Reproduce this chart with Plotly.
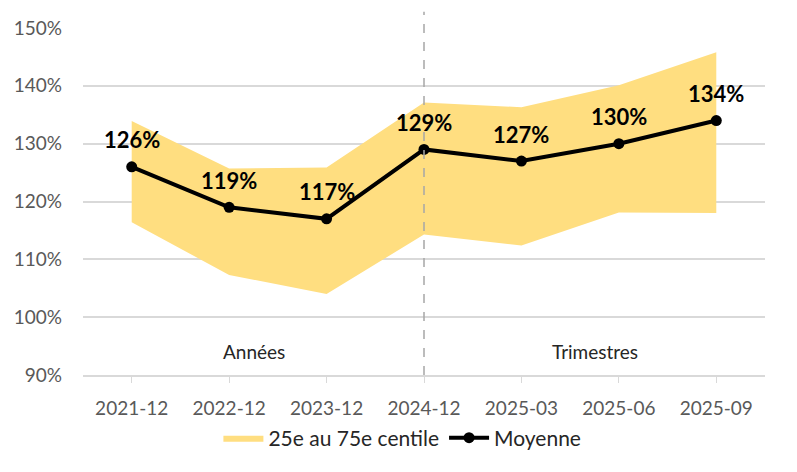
import plotly.graph_objects as go

# Data
periods = ['2021-12', '2022-12', '2023-12', '2024-12', '2025-03', '2025-06', '2025-09']
moyenne = [126, 119, 117, 129, 127, 130, 134]
centile_25 = [116.4, 107.3, 104.0, 114.3, 112.4, 118.1, 118.0]
centile_75 = [133.9, 125.7, 125.9, 137.1, 136.3, 140.1, 145.8]

yellow = 'rgb(255,222,128)'
font_family = 'Lato, "Open Sans", sans-serif'

fig = go.Figure()

# Lower edge of the band (invisible)
fig.add_trace(go.Scatter(
    x=periods, y=centile_25,
    mode='lines',
    line=dict(width=0, color=yellow),
    showlegend=False,
    hoverinfo='skip'
))

# Upper edge, filled down to the lower edge
fig.add_trace(go.Scatter(
    x=periods, y=centile_75,
    mode='lines',
    line=dict(width=0, color=yellow),
    fill='tonexty',
    fillcolor=yellow,
    name='25e au 75e centile'
))

# Mean line
fig.add_trace(go.Scatter(
    x=periods, y=moyenne,
    mode='lines+markers',
    line=dict(color='black', width=4),
    marker=dict(color='black', size=11),
    name='Moyenne'
))

# Data labels above each point
for p, v in zip(periods, moyenne):
    fig.add_annotation(
        x=p, y=v, text=f'{v}%',
        showarrow=False, yshift=27,
        font=dict(family=font_family, size=22, color='black', weight='bold')
    )

# Section labels
fig.add_annotation(x=1.25, y=94.0, text='Années', showarrow=False,
                   font=dict(family=font_family, size=19, color='#262626'))
fig.add_annotation(x=4.75, y=94.0, text='Trimestres', showarrow=False,
                   font=dict(family=font_family, size=19, color='#262626'))

# Dashed separator between years and quarters
fig.add_shape(type='line', xref='x', yref='paper',
              x0=3, x1=3, y0=0, y1=1.047,
              line=dict(color='#A6A6A6', width=1.5, dash='dash'))

# page body adds an 8px margin, so the figure is a bit smaller and shifted
fig.update_layout(
    width=781, height=456,
    margin=dict(l=75, r=24, t=20, b=89, autoexpand=False),
    paper_bgcolor='white',
    plot_bgcolor='white',
    font=dict(family=font_family, size=19, color='#595959'),
    showlegend=True,
    legend=dict(
        orientation='h',
        xref='container', yref='container',
        x=0.505, xanchor='center',
        y=0.057, yanchor='middle',
        font=dict(size=21, color='#262626'),
        itemwidth=40,
        traceorder='normal'
    ),
    xaxis=dict(
        type='category',
        range=[-0.5, 6.5],
        automargin=False,
        showgrid=False,
        showline=True, linecolor='#D9D9D9', linewidth=1.5,
        ticks='outside', tickcolor='#D9D9D9', ticklen=6,
        ticklabelstandoff=9,
        tickfont=dict(size=19, color='#595959')
    ),
    yaxis=dict(
        range=[90, 150],
        dtick=10,
        ticksuffix='%',
        automargin=False,
        showgrid=True, gridcolor='#D9D9D9', gridwidth=1.5,
        zeroline=False,
        showline=False,
        ticklabelstandoff=20,
        tickfont=dict(size=19, color='#595959')
    )
)

fig.write_html('out.html')
